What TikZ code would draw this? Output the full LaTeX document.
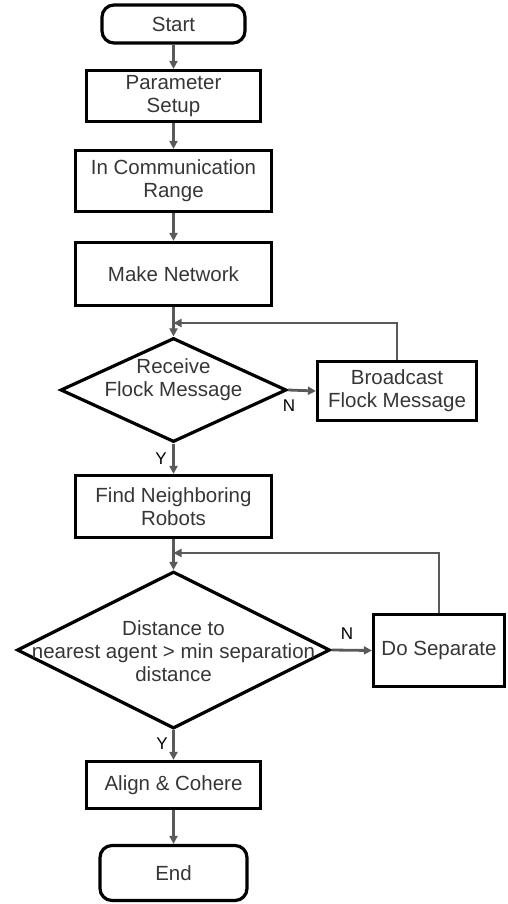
\documentclass[tikz,border=0pt]{standalone}
\usepackage{fontspec}
\setmainfont{Liberation Sans}
\usetikzlibrary{shapes.geometric,arrows.meta}
\definecolor{linegray}{HTML}{5A5A5A}
\definecolor{txtgray}{HTML}{363636}
\begin{document}
\begin{tikzpicture}[x=1pt,y=-1pt,
  box/.style={draw=black, line width=3.2pt, rectangle, inner sep=0pt, align=center,
    text=txtgray, font=\fontsize{20.5}{23}\selectfont},
  term/.style={box, rounded corners=12pt},
  dia/.style={draw=black, line width=3.2pt, diamond, inner sep=0pt},
  txt/.style={align=center, text=txtgray, font=\fontsize{20.5}{23}\selectfont, inner sep=0pt},
  lbl/.style={text=black, font=\fontsize{17}{20}\selectfont, inner sep=0pt},
  arr/.style={draw=linegray, line width=2.8pt, -{Triangle[length=8pt,width=8pt]}}]
\useasboundingbox (0,0) rectangle (508,904);
\node[term, minimum width=143pt, minimum height=38pt] (start) at (173.5,24) {Start};
\node[box, minimum width=174pt, minimum height=51pt] (param) at (173.5,96) {Parameter\\Setup};
\node[box, minimum width=196pt, minimum height=61pt] (comm) at (173.5,181) {In Communication\\Range};
\node[box, minimum width=196pt, minimum height=63pt] (make) at (173.5,274) {Make Network};
\node[dia, minimum width=226pt, minimum height=104pt] (recv) at (173.5,390) {};
\node[txt] (recvtxt) at (173.5,380) {Receive\\Flock Message};
\node[box, minimum width=159pt, minimum height=59pt] (bcast) at (397,391) {Broadcast\\Flock Message};
\node[box, minimum width=196pt, minimum height=62pt] (find) at (173.5,506.5) {Find Neighboring\\Robots};
\node[dia, minimum width=313pt, minimum height=157pt] (dist) at (173.5,650) {};
\node[txt] (disttxt) at (173.5,651) {Distance to\\nearest agent > min separation\\distance};
\node[box, minimum width=131pt, minimum height=72pt] (sep) at (439,650.5) {Do Separate};
\node[box, minimum width=174pt, minimum height=47pt] (align) at (173.5,785) {Align \& Cohere};
\node[term, minimum width=147pt, minimum height=55pt] (end) at (173.5,873) {End};
\coordinate (j1) at (173.5,323);
\coordinate (j2) at (173.5,553);
\draw[arr] (start) -- (param);
\draw[arr] (param) -- (comm);
\draw[arr] (comm) -- (make);
\draw[arr] (make) -- (recv);
\draw[arr] (bcast.north) |- (j1);
\draw[arr] (recv.east) -- (bcast.west);
\draw[arr] (recv.south) -- (find.north);
\draw[arr] (find) -- (dist.north);
\draw[arr] (sep.north) |- (j2);
\draw[arr] (dist.east) -- (sep.west);
\draw[arr] (dist.south) -- (align.north);
\draw[arr] (align) -- (end);
\node[lbl] (n1) at (289,406) {N};
\node[lbl] (y1) at (161,459) {Y};
\node[lbl] (n2) at (347,634) {N};
\node[lbl] (y2) at (162,744) {Y};
\end{tikzpicture}
\end{document}
